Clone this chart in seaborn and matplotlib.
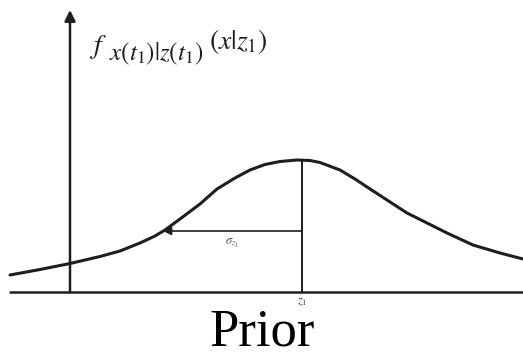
import numpy as np
import matplotlib.pyplot as plt
import seaborn as sns

# curve (x position, height above the baseline)
curve_x = [10, 40, 70, 100, 120, 140, 155, 165, 180, 200, 217, 235, 250, 265,
           280, 297, 310, 320, 340, 355, 367, 387, 407, 427, 447, 473, 500, 523]
curve_y = [17, 22.5, 28.5, 35.5, 41, 49, 56, 62, 73, 88, 103, 114, 122, 127.5,
           130.5, 132, 131.5, 129.5, 122, 113, 105, 92, 79, 69, 59, 47, 39, 33]

z1 = 302          # mean
sigma = 139       # arrow length
sigma_h = 61      # arrow height
axis_x = 70

sns.set_theme(style='white')
plt.rcParams['font.family'] = ['Liberation Serif', 'DejaVu Serif']
plt.rcParams['mathtext.fontset'] = 'stix'

fig = plt.figure(figsize=(5.23, 3.58), dpi=100)
ax = fig.add_axes([0, 0, 1, 1])
ax.set_xlim(0, 523)
ax.set_ylim(-66, 292)
ax.axis('off')

ink = '#1e1e1e'

# curve
sns.lineplot(x=curve_x, y=curve_y, ax=ax, color=ink, linewidth=2.2)

# baseline and vertical axis with arrow
ax.plot([10, 523], [0, 0], color=ink, linewidth=1.8)
ax.annotate('', xy=(axis_x, 282), xytext=(axis_x, 0),
            arrowprops=dict(arrowstyle='-|>', color=ink, lw=1.8,
                            mutation_scale=16, shrinkA=0, shrinkB=0))

# mean line and sigma arrow
ax.plot([z1, z1], [0, max(curve_y)], color=ink, linewidth=1.4)
ax.annotate('', xy=(z1 - sigma, sigma_h), xytext=(z1, sigma_h),
            arrowprops=dict(arrowstyle='-|>', color=ink, lw=1.2,
                            mutation_scale=12, shrinkA=0, shrinkB=0))

# density label, typeset in pieces like the scan
ax.text(89, 245, r'$f$', fontsize=20, color=ink, ha='left', va='center')
ax.text(109, 238, r'$x(t_1)|z(t_1)$', fontsize=18, color=ink,
        ha='left', va='center')
ax.text(209, 250, r'$(x|z_1)$', fontsize=20, color=ink,
        ha='left', va='center')

ax.text(232, 49, r'$\sigma_{z_1}$', fontsize=9, color='#555555',
        ha='center', va='center')
ax.text(z1, -10, r'$z_1$', fontsize=9, color='#444444',
        ha='center', va='center')
ax.text(262, -54, 'Prior', fontsize=38, color='black',
        ha='center', va='baseline')

plt.savefig('out.png', dpi=100)
